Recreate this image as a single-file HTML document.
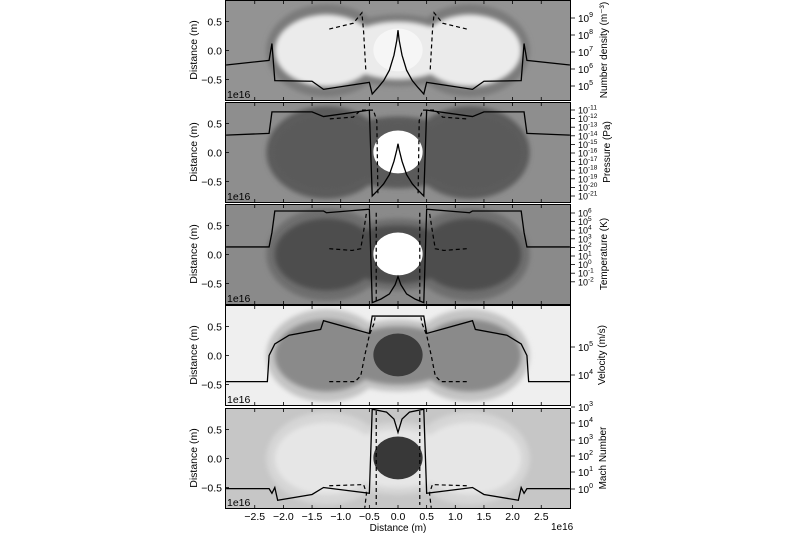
<!DOCTYPE html>
<html><head><meta charset="utf-8"><style>
body{margin:0;background:#fff;width:800px;height:533px;overflow:hidden}
svg{font-family:"Liberation Sans","DejaVu Sans",sans-serif}
</style></head><body>
<svg id="fig" width="800" height="533" viewBox="0 0 800 533" xmlns="http://www.w3.org/2000/svg">
<defs>
<filter id="blur" x="-20%" y="-20%" width="140%" height="140%"><feGaussianBlur stdDeviation="2.5"/></filter>
</defs>
</svg>
<script>
const xTicks = [-2.5,-2.0,-1.5,-1.0,-0.5,0.0,0.5,1.0,1.5,2.0,2.5];
const yTicks = [0.5,0.0,-0.5];
const panelNames = ["number-density","pressure","temperature","velocity","mach-number"];
const rightTitles = ["Number density (m\u207B\u00B3)","Pressure (Pa)","Temperature (K)","Velocity (m/s)","Mach Number"];
const rightExps = [["9","8","7","6","5"],["-11","-12","-13","-14","-15","-16","-17","-18","-19","-20","-21"],["6","5","4","3","2","1","0","-1","-2"],["5","4"],["3","4","3","2","1","0"]];
const rightY = [[18,35,52,69,86],[110,118.6,127.2,135.8,144.4,153,161.6,170.2,178.8,187.4,196],[213,221.6,230.2,238.8,247.4,256,264.6,273.2,281.8],[347,375],[407,423,440,456,472,489]];
const bgCol = ["#939393","#8e8e8e","#8a8a8a","#efefef","#c6c6c6"];
const shellCol = ["#7a7a7a","#5c5c5c","#6e6e6e","#c4c4c4","#d6d6d6"];
const innerCol = ["#ebebeb","#5a5a5a","#4e4e4e","#8a8a8a","#e6e6e6"];
const coreCol = ["#f6f6f6","#ffffff","#ffffff","#3c3c3c","#383838"];
const solidX = [
 [-3,-2.25,-2.2,-2.15,-1.5,-1.3,-0.5,-0.45,-0.35,-0.25,-0.15,-0.07,-0.02,0,0.02,0.07,0.15,0.25,0.35,0.45,0.5,1.3,1.5,2.15,2.2,2.25,3],
 [-3,-2.25,-2.2,-1.5,-1.3,-0.5,-0.45,-0.35,-0.25,-0.15,-0.07,-0.02,0,0.02,0.07,0.15,0.25,0.35,0.45,0.5,1.3,1.5,2.2,2.25,3],
 [-3,-2.25,-2.2,-2.15,-1.3,-1.25,-0.5,-0.45,-0.3,-0.15,-0.05,0,0.05,0.15,0.3,0.45,0.5,1.25,1.3,2.15,2.2,2.25,3],
 [-3,-2.28,-2.25,-2.15,-1.9,-1.35,-1.3,-0.5,-0.45,0,0.45,0.5,1.3,1.35,1.9,2.15,2.25,2.28,3],
 [-3,-2.25,-2.2,-2.15,-2.1,-1.5,-1.3,-0.5,-0.45,-0.2,-0.07,0,0.07,0.2,0.45,0.5,1.3,1.5,2.1,2.15,2.2,2.25,3]];
const solidY = [
 [-0.25,-0.17,0.12,-0.52,-0.53,-0.67,-0.55,-0.75,-0.64,-0.52,-0.34,-0.08,0.18,0.35,0.18,-0.08,-0.34,-0.52,-0.64,-0.75,-0.55,-0.67,-0.53,-0.52,0.12,-0.17,-0.25],
 [0.3,0.33,0.7,0.7,0.62,0.73,-0.75,-0.65,-0.54,-0.38,-0.15,0.05,0.15,0.05,-0.15,-0.38,-0.54,-0.65,-0.75,0.73,0.62,0.7,0.7,0.33,0.3],
 [0.13,0.13,0.38,0.75,0.75,0.72,0.78,-0.83,-0.77,-0.68,-0.52,-0.38,-0.52,-0.68,-0.77,-0.83,0.78,0.72,0.75,0.75,0.38,0.13,0.13],
 [-0.45,-0.45,0.0,0.2,0.35,0.45,0.6,0.38,0.68,0.68,0.68,0.38,0.6,0.45,0.35,0.2,0.0,-0.45,-0.45],
 [-0.52,-0.52,-0.6,-0.5,-0.72,-0.62,-0.5,-0.6,0.85,0.8,0.68,0.45,0.68,0.8,0.85,-0.6,-0.5,-0.62,-0.72,-0.5,-0.6,-0.52,-0.52]];
const dashX = [
 [[-1.2,-0.78,-0.63,-0.6,-0.56],[1.2,0.78,0.63,0.6,0.56]],
 [[-1.19,-0.78,-0.65,-0.43,-0.37,-0.35],[1.19,0.78,0.65,0.43,0.37,0.35]],
 [[-1.2,-0.8,-0.65,-0.6,-0.55],[-0.38,-0.38],[1.2,0.8,0.65,0.6,0.55],[0.38,0.38]],
 [[-1.2,-0.75,-0.65,-0.58,-0.5,-0.42,-0.4],[1.2,0.75,0.65,0.58,0.5,0.42,0.4]],
 [[-1.2,-0.6,-0.55,-0.58],[-0.38,-0.38],[1.2,0.6,0.55,0.58],[0.38,0.38]]];
const dashY = [
 [[0.37,0.47,0.65,0.32,-0.37],[0.37,0.47,0.65,0.32,-0.37]],
 [[0.58,0.61,0.73,0.73,0.55,-0.75],[0.58,0.61,0.73,0.73,0.55,-0.75]],
 [[0.1,0.07,0.1,0.4,0.72],[0.72,-0.8],[0.1,0.07,0.1,0.4,0.72],[0.72,-0.8]],
 [[-0.45,-0.45,-0.35,0.0,0.35,0.55,0.66],[-0.45,-0.45,-0.35,0.0,0.35,0.55,0.66]],
 [[-0.47,-0.45,-0.6,-0.85],[0.82,-0.8],[-0.47,-0.45,-0.6,-0.85],[0.82,-0.8]]];

const NS="http://www.w3.org/2000/svg";
const svg=document.getElementById('fig');
const L=225,R=571,H=101,tops=[0,102,204,305,408];
const sx=x=>398+x*57.3;
function mk(tag,attrs,parent){const e=document.createElementNS(NS,tag);for(const k in attrs)e.setAttribute(k,attrs[k]);(parent||svg).appendChild(e);return e;}
for(let p=0;p<5;p++){
  const t=tops[p];
  const sy=y=>t+50.5-y*58;
  const g=mk('g',{});
  
  
  const cid='clip'+p;
  const cp=mk('clipPath',{id:cid},svg.querySelector('defs'));
  mk('rect',{x:L,y:t,width:R-L,height:H},cp);
  const img=mk('g',{'clip-path':'url(#'+cid+')'},g);
  
  
  mk('rect',{x:L,y:t,width:R-L,height:H,fill:bgCol[p]},img);
  const sh=mk('g',{filter:'url(#blur)',fill:shellCol[p]},img);
  mk('ellipse',{cx:sx(-1.25),cy:sy(0),rx:1.05*57.3,ry:0.8*58},sh);
  mk('ellipse',{cx:sx(1.25),cy:sy(0),rx:1.05*57.3,ry:0.8*58},sh);
  mk('ellipse',{cx:sx(0),cy:sy(0),rx:1.2*57.3,ry:0.62*58},sh);
  const inn=mk('g',{filter:'url(#blur)',fill:innerCol[p]},img);
  mk('ellipse',{cx:sx(-1.25),cy:sy(0),rx:0.9*57.3,ry:0.62*58},inn);
  mk('ellipse',{cx:sx(1.25),cy:sy(0),rx:0.9*57.3,ry:0.62*58},inn);
  mk('ellipse',{cx:sx(0),cy:sy(0),rx:1.0*57.3,ry:0.5*58},inn);
  const core=mk('ellipse',{cx:sx(0),cy:sy(0.01),rx:0.43*57.3,ry:0.37*58,fill:coreCol[p]},img);
  
  
  const pts=solidX[p].map((x,i)=>sx(x)+','+sy(solidY[p][i])).join(' ');
  const sl=mk('polyline',{points:pts,fill:'none',stroke:'#000','stroke-width':1.3},img);
  
  
  dashX[p].forEach((xs,j)=>{
    const dp=xs.map((x,i)=>sx(x)+','+sy(dashY[p][j][i])).join(' ');
    const dl=mk('polyline',{points:dp,fill:'none',stroke:'#000','stroke-width':1.2,'stroke-dasharray':'4,3'},img);
    
    
  });
  const fr=mk('rect',{x:L+0.5,y:t+0.5,width:R-L-1,height:H-1,fill:'none',stroke:'#000','stroke-width':1},g);
  
  
  xTicks.forEach(v=>{
    mk('line',{x1:sx(v),x2:sx(v),y1:t,y2:t+4,stroke:'#000','stroke-width':0.8},g);
    mk('line',{x1:sx(v),x2:sx(v),y1:t+H,y2:t+H-4,stroke:'#000','stroke-width':0.8},g);
  });
  yTicks.forEach(v=>{
    mk('line',{x1:L,x2:L+4,y1:sy(v),y2:sy(v),stroke:'#000','stroke-width':0.8},g);
    const tl=mk('text',{x:L-3,y:sy(v)+4,'font-size':10.5,'text-anchor':'end',fill:'#000'},g);
    tl.textContent=v===0?'0.0':(v<0?'\u22120.5':'0.5');
    
    
  });
  const yt=mk('text',{x:0,y:0,'font-size':10.5,'text-anchor':'middle',transform:'translate(197,'+(t+50)+') rotate(-90)'},g);
  yt.textContent='Distance (m)';
  
  
  const off=mk('text',{x:227,y:t+H-3,'font-size':10.5,fill:'#000'},g);
  off.textContent='1e16';
  
  
  const small=(p===1||p===2);
  rightY[p].forEach((yy,i)=>{
    mk('line',{x1:R,x2:R+4,y1:yy,y2:yy,stroke:'#000','stroke-width':0.8},g);
    const rl=mk('text',{x:R+7,y:yy+(small?3.5:4),'font-size':small?9:10},g);
    
    
    rl.appendChild(document.createTextNode('10'));
    const sp=mk('tspan',{dy:small?-4:-5,'font-size':small?6.5:7},rl);
    sp.textContent=rightExps[p][i];
  });
  const cx=[607,610,607,605,606][p];
  const rt=mk('text',{x:0,y:0,'font-size':10,'text-anchor':'middle',transform:'translate('+cx+','+(t+50)+') rotate(-90)'},g);
  rt.textContent=rightTitles[p];
  
  
}
xTicks.forEach(v=>{
  const tl=mk('text',{x:sx(v),y:520,'font-size':10.5,'text-anchor':'middle'});
  tl.textContent=(v<0?'\u2212':'')+Math.abs(v).toFixed(1);
  
  
});
const xt=mk('text',{x:398,y:531,'font-size':10,'text-anchor':'middle'});
xt.textContent='Distance (m)';


const xo=mk('text',{x:551,y:530,'font-size':10});
xo.textContent='1e16';


</script>
</body></html>
